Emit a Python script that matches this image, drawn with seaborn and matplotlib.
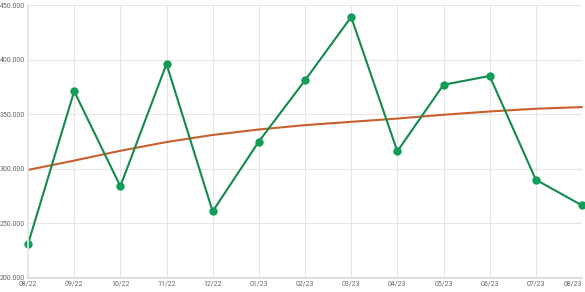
import matplotlib
matplotlib.use("Agg")
import matplotlib.pyplot as plt
import seaborn as sns
import pandas as pd
from matplotlib.ticker import FuncFormatter

months = ["08/22", "09/22", "10/22", "11/22", "12/22", "01/23", "02/23",
          "03/23", "04/23", "05/23", "06/23", "07/23", "08/23"]
actual = [231000, 371000, 284000, 396000, 261000, 325000, 381000,
          439000, 316000, 377000, 385000, 290000, 266500]
trend = [299000, 307500, 316500, 324500, 331000, 336000, 340000,
         343000, 346000, 349500, 352500, 355000, 356500]

df = pd.DataFrame({"x": range(len(months)), "actual": actual, "trend": trend})

sns.set_theme(style="whitegrid")
plt.rcParams["font.family"] = ["Roboto", "DejaVu Sans"]

fig = plt.figure(figsize=(5.85, 2.92), dpi=100)
ax = fig.add_axes([28 / 585, 1 - 278 / 292, (582 - 28) / 585, (278 - 5) / 292])

sns.lineplot(data=df, x="x", y="trend", ax=ax, color="#c8602e", linewidth=1.5)
sns.lineplot(data=df, x="x", y="actual", ax=ax, color="#138a4e", linewidth=1.5,
             marker="o", markersize=6, markeredgewidth=0, markerfacecolor="#0f9d58")
for l in ax.lines:
    l.set_clip_on(False)

ax.set_xlim(0, len(months) - 1)
ax.set_ylim(200000, 450000)
ax.set_xticks(range(len(months)))
ax.set_xticklabels(months)
ax.set_yticks([200000, 250000, 300000, 350000, 400000, 450000])
ax.yaxis.set_major_formatter(FuncFormatter(lambda v, p: f"{int(v):,}".replace(",", ".")))
ax.tick_params(axis="both", labelsize=5, colors="#666666", length=0, pad=2)
ax.get_xticklabels()[-1].set_horizontalalignment("right")
ax.get_xticklabels()[0].set_horizontalalignment("center")
ax.set_xlabel("")
ax.set_ylabel("")
ax.grid(True, color="#e6e6e6", linewidth=0.8)
for s in ax.spines.values():
    s.set_visible(False)
ax.spines["bottom"].set_visible(True)
ax.spines["bottom"].set_color("#d9d9d9")
ax.spines["left"].set_visible(True)
ax.spines["left"].set_color("#e6e6e6")

fig.savefig("out.png", dpi=100)
